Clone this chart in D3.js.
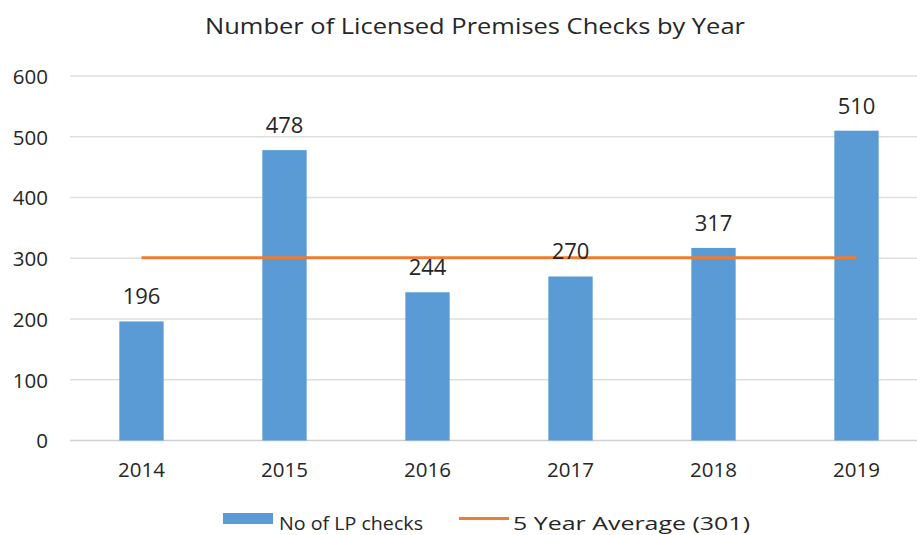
<!DOCTYPE html>
<html><head><meta charset="utf-8">
<script src="https://cdn.jsdelivr.net/npm/d3@7"></script>
<style>body{margin:0;background:#fff}svg{display:block}text{font-family:"Open Sans",sans-serif;fill:#262626}</style>
</head><body><svg id="c" width="917" height="535"></svg>
<script>
const years = ["2014","2015","2016","2017","2018","2019"];
const checks = [196,478,244,270,317,510];
const average = 301;
const yTicks = [0,100,200,300,400,500,600];
const title = "Number of Licensed Premises Checks by Year";
const legendLabels = ["No of LP checks","5 Year Average (301)"];

const svg = d3.select("#c");
const x = d3.scaleBand().domain(years).range([70,928]).paddingInner(0.69).paddingOuter(0.345);
const y = d3.scaleLinear().domain([0,600]).range([440.5,76]);

svg.append("text").attr("x",475).attr("y",34).attr("text-anchor","middle")
  .attr("font-size",22).attr("textLength",540).attr("lengthAdjust","spacingAndGlyphs").text(title);

// gridlines
svg.append("g").selectAll("line").data(yTicks).join("line")
  .attr("x1",70).attr("x2",928).attr("y1",d=>y(d)).attr("y2",d=>y(d))
  .attr("stroke",d=>d===0?"#d0d0d0":"#dedede").attr("stroke-width",1.3);

// y axis labels
const yAxis = d3.axisLeft(y).tickValues(yTicks).tickSize(0).tickPadding(0);
const yg = svg.append("g").attr("transform","translate(48,0)").call(yAxis);
yg.select(".domain").remove();
yg.selectAll("text").attr("font-size",20.5).attr("font-family","Open Sans, sans-serif").attr("fill","#262626").attr("dy","0.36em");

// x axis labels
const xAxis = d3.axisBottom(x).tickSize(0).tickPadding(0);
const xg = svg.append("g").attr("transform","translate(0,477)").call(xAxis);
xg.select(".domain").remove();
xg.selectAll("text").attr("font-size",20.5).attr("font-family","Open Sans, sans-serif").attr("fill","#262626").attr("dy","0");

// bars
svg.append("g").selectAll("rect").data(years).join("rect")
  .attr("x",d=>x(d)).attr("width",x.bandwidth())
  .attr("y",(d,i)=>y(checks[i])).attr("height",(d,i)=>y(0)-y(checks[i]))
  .attr("fill","#5B9BD5");

// average line
svg.append("line").attr("x1",x(years[0])+x.bandwidth()/2).attr("x2",x(years[years.length-1])+x.bandwidth()/2)
  .attr("y1",y(average)).attr("y2",y(average)).attr("stroke","#ED7D31").attr("stroke-width",3);

// data labels
svg.append("g").selectAll("text").data(years).join("text")
  .attr("x",d=>x(d)+x.bandwidth()/2).attr("y",(d,i)=>y(checks[i])-17)
  .attr("text-anchor","middle").attr("font-size",22).text((d,i)=>checks[i]);

// legend
const lg = svg.append("g");
lg.append("rect").attr("x",223).attr("y",513).attr("width",50).attr("height",11).attr("fill","#5B9BD5");
lg.append("text").attr("x",279).attr("y",530).attr("font-size",19).attr("textLength",144).attr("lengthAdjust","spacingAndGlyphs").text(legendLabels[0]);
lg.append("line").attr("x1",459).attr("x2",509).attr("y1",518.5).attr("y2",518.5).attr("stroke","#ED7D31").attr("stroke-width",3);
lg.append("text").attr("x",513).attr("y",530).attr("font-size",19).attr("textLength",237).attr("lengthAdjust","spacingAndGlyphs").text(legendLabels[1]);
</script></body></html>
